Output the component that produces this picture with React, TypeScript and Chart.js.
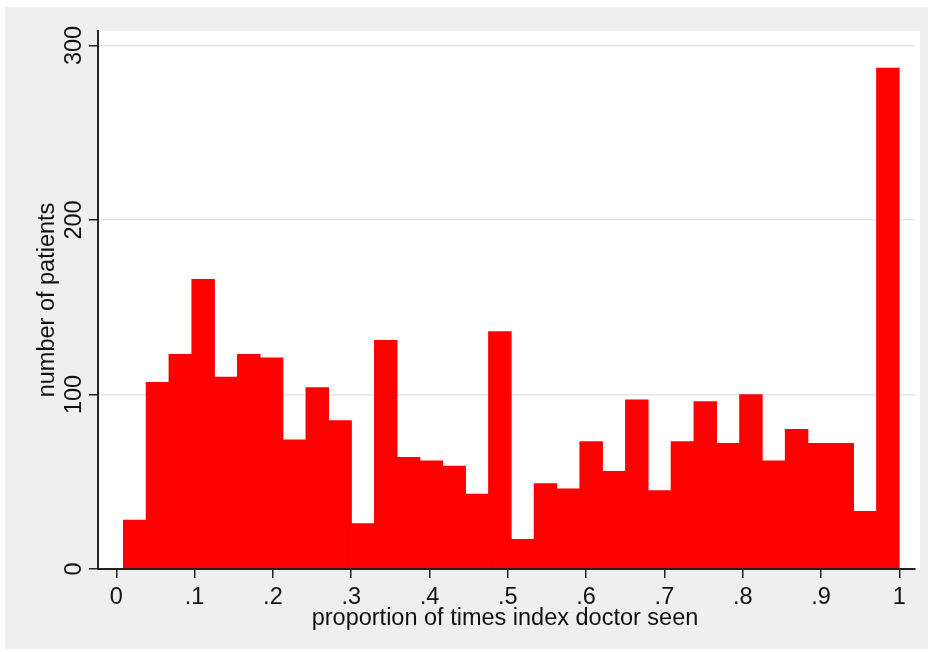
import React, { useEffect, useRef } from "react";
import { Chart, registerables } from "chart.js";

Chart.register(...registerables);

// Histogram bins (34 equal-width bins)
const binStart = 0.0089;
const binWidth = 0.02915;
const counts = [
  28, 107, 123, 166, 110, 123, 121, 74, 104, 85, 26, 131, 64, 62, 59, 43, 136,
  17, 49, 46, 73, 56, 97, 45, 73, 96, 72, 100, 62, 80, 72, 72, 33, 287,
];

const xTickValues = [0, 0.1, 0.2, 0.3, 0.4, 0.5, 0.6, 0.7, 0.8, 0.9, 1];
const xTickLabels = ["0", ".1", ".2", ".3", ".4", ".5", ".6", ".7", ".8", ".9", "1"];
const yTickValues = [0, 100, 200, 300];
const yTickLabels = ["0", "100", "200", "300"];

const xTitle = "proportion of times index doctor seen";
const yTitle = "number of patients";

const FONT = '23.5px "Liberation Sans", Arial, Helvetica, sans-serif';
const BG = "#efefef";

export default function App() {
  const ref = useRef<HTMLCanvasElement | null>(null);

  useEffect(() => {
    document.body.style.margin = "0";
    const canvas = ref.current;
    if (!canvas) return;

    const data = counts.map((c, i) => ({ x: binStart + binWidth * (i + 0.5), y: c }));

    const bgPlugin = {
      id: "bgPlugin",
      beforeDraw(chart: any) {
        const { ctx, chartArea } = chart;
        ctx.save();
        ctx.fillStyle = BG;
        ctx.fillRect(0, 0, chart.width, chart.height);
        ctx.fillStyle = "#ffffff";
        ctx.fillRect(
          chartArea.left,
          chartArea.top,
          chartArea.right - chartArea.left + 5,
          chartArea.bottom - chartArea.top
        );
        ctx.restore();
      },
    };

    const textPlugin = {
      id: "textPlugin",
      afterDraw(chart: any) {
        const { ctx, chartArea } = chart;
        const xs = chart.scales.x;
        const ys = chart.scales.y;
        ctx.save();
        ctx.fillStyle = "#111";
        ctx.font = FONT;
        // y tick labels (rotated)
        yTickValues.forEach((v, i) => {
          const py = ys.getPixelForValue(v);
          ctx.save();
          ctx.translate(chartArea.left - 17, py);
          ctx.rotate(-Math.PI / 2);
          ctx.textAlign = "center";
          ctx.textBaseline = "alphabetic";
          ctx.fillText(yTickLabels[i], 0, 0);
          ctx.restore();
        });
        // x tick labels
        ctx.textAlign = "center";
        ctx.textBaseline = "alphabetic";
        xTickValues.forEach((v, i) => {
          const px = xs.getPixelForValue(v);
          ctx.fillText(xTickLabels[i], px, chartArea.bottom + 35);
        });
        // x title
        ctx.fillText(xTitle, (chartArea.left + chartArea.right) / 2 - 1.5, chartArea.bottom + 56);
        // y title
        ctx.save();
        ctx.translate(chartArea.left - 44, (chartArea.top + chartArea.bottom) / 2);
        ctx.rotate(-Math.PI / 2);
        ctx.textAlign = "center";
        ctx.fillText(yTitle, 0, 0);
        ctx.restore();
        ctx.restore();
      },
    };

    const chart = new Chart(canvas, {
      type: "bar",
      data: {
        datasets: [
          {
            data,
            backgroundColor: "#ff0000",
            borderWidth: 0,
            barPercentage: 1,
            categoryPercentage: 1,
          },
        ],
      },
      options: {
        responsive: false,
        animation: false,
        devicePixelRatio: 1,
        layout: { padding: { top: 24, right: 13, left: 0, bottom: 0 } },
        plugins: {
          legend: { display: false },
          tooltip: { enabled: false },
        },
        scales: {
          x: {
            type: "linear",
            min: -0.02337,
            max: 1.02005,
            offset: false,
            afterBuildTicks: (scale: any) => {
              scale.ticks = xTickValues.map((v) => ({ value: v }));
            },
            afterFit: (scale: any) => {
              scale.height = 80;
            },
            ticks: { display: false },
            grid: {
              offset: false,
              drawOnChartArea: false,
              drawTicks: true,
              tickLength: 9,
              tickColor: "#222",
              tickWidth: 1.5,
              lineWidth: 1.5,
            },
            border: { display: true, color: "#222", width: 2, z: 1 },
          },
          y: {
            type: "linear",
            min: 0,
            max: 308.3,
            afterBuildTicks: (scale: any) => {
              scale.ticks = yTickValues.map((v) => ({ value: v }));
            },
            afterFit: (scale: any) => {
              scale.width = 93;
            },
            ticks: { display: false },
            grid: {
              drawTicks: true,
              tickLength: 9,
              tickColor: "#222",
              tickWidth: 1.5,
              lineWidth: 1.5,
              color: (ctx: any) =>
                ctx.tick && ctx.tick.value === 0 ? "rgba(0,0,0,0)" : "#e6e6e6",
            },
            border: { display: true, color: "#222", width: 2, z: 1 },
          },
        },
      },
      plugins: [bgPlugin, textPlugin],
    } as any);

    return () => chart.destroy();
  }, []);

  return (
    <div style={{ position: "absolute", left: 0, top: 0, width: 928, height: 652, background: "#fff" }}>
      <canvas
        ref={ref}
        width={923}
        height={642}
        style={{ position: "absolute", left: 5, top: 7, width: 923, height: 642 }}
      />
    </div>
  );
}
